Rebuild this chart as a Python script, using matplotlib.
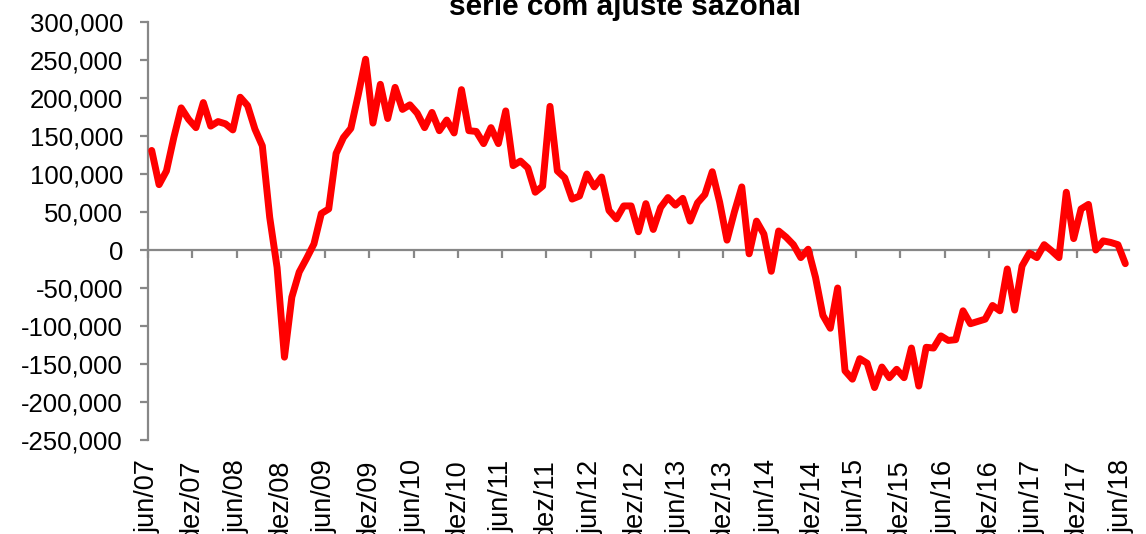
import numpy as np
import matplotlib
import matplotlib.ticker
import matplotlib.pyplot as plt

matplotlib.use("Agg")
matplotlib.rcParams['font.family'] = 'Liberation Sans'

# monthly values, jun/07 .. jun/18 (seasonally adjusted series)
values = [131000, 86000, 104000, 148000, 187000, 172000, 161000, 194000, 163000, 169000,
          166000, 158000, 201000, 190000, 159000, 137000, 43000, -23000, -141000, -62000,
          -29000, -11000, 8000, 48000, 54000, 127000, 148000, 160000, 204000, 251000,
          167000, 218000, 173000, 214000, 185000, 191000, 180000, 161000, 181000, 157000,
          171000, 154000, 211000, 157000, 156000, 140000, 161000, 140000, 183000, 111000,
          117000, 108000, 76000, 84000, 189000, 104000, 95000, 67000, 71000, 100000,
          83000, 96000, 52000, 41000, 58000, 58000, 24000, 61000, 27000, 56000,
          69000, 59000, 68000, 38000, 62000, 73000, 103000, 63000, 13000, 50000,
          83000, -5000, 38000, 21000, -28000, 25000, 17000, 7000, -10000, 1000,
          -36000, -86000, -103000, -50000, -159000, -170000, -143000, -149000, -181000, -154000,
          -168000, -157000, -168000, -129000, -179000, -128000, -129000, -113000, -119000, -118000,
          -80000, -97000, -94000, -91000, -73000, -80000, -25000, -79000, -21000, -4000,
          -10000, 7000, -1000, -10000, 76000, 15000, 54000, 60000, 0, 12000,
          10000, 7000, -18000]

tick_labels = ['jun/07', 'dez/07', 'jun/08', 'dez/08', 'jun/09', 'dez/09', 'jun/10', 'dez/10',
               'jun/11', 'dez/11', 'jun/12', 'dez/12', 'jun/13', 'dez/13', 'jun/14', 'dez/14',
               'jun/15', 'dez/15', 'jun/16', 'dez/16', 'jun/17', 'dez/17', 'jun/18']

title = 'série com ajuste sazonal'


# ==============================================================================
def main():
    W, H = 1146, 534
    fig = plt.figure(figsize=(W / 100, H / 100), dpi=100)
    ax = fig.add_axes([148 / W, 1 - 440 / H, (1129 - 148) / W, (440 - 22) / H])

    axis_color = '#878787'
    x = np.arange(len(values)) + 0.5
    ax.plot(x, values, color='#ff0000', lw=5,
            solid_joinstyle='round', solid_capstyle='round', zorder=3)

    ax.set_xlim(0, len(values))
    ax.set_ylim(-250000, 300000)
    ax.yaxis.set_major_locator(matplotlib.ticker.MultipleLocator(50000))
    ax.yaxis.set_major_formatter(matplotlib.ticker.FuncFormatter(lambda v, p: f'{v:,.0f}'))

    for side in ['top', 'right']:
        ax.spines[side].set_visible(False)
    ax.spines['bottom'].set_position(('data', 0))
    for side in ['left', 'bottom']:
        ax.spines[side].set_color(axis_color)
        ax.spines[side].set_linewidth(1.6)

    ticks = np.arange(0, len(values), 6)
    ax.set_xticks(ticks)
    ax.tick_params(axis='x', direction='out', length=6, width=1.6, color=axis_color,
                   labelbottom=False)
    ax.tick_params(axis='y', direction='out', length=6, width=1.6, color=axis_color,
                   labelsize=18.5, pad=12)

    # labels sit at the bottom of the plot, ticks at the zero line
    sec = ax.secondary_xaxis('bottom')
    sec.set_xticks(ticks, labels=tick_labels)
    sec.tick_params(length=0, pad=14, labelsize=19.5, labelrotation=90)
    sec.spines['bottom'].set_visible(False)

    fig.text(625 / W, 1 - 15 / H, title, ha='center', va='baseline',
             fontsize=21.5, fontweight='bold')

    fig.savefig('out.png', dpi=100)
# ==============================================================================


if __name__ == '__main__':
    main()
